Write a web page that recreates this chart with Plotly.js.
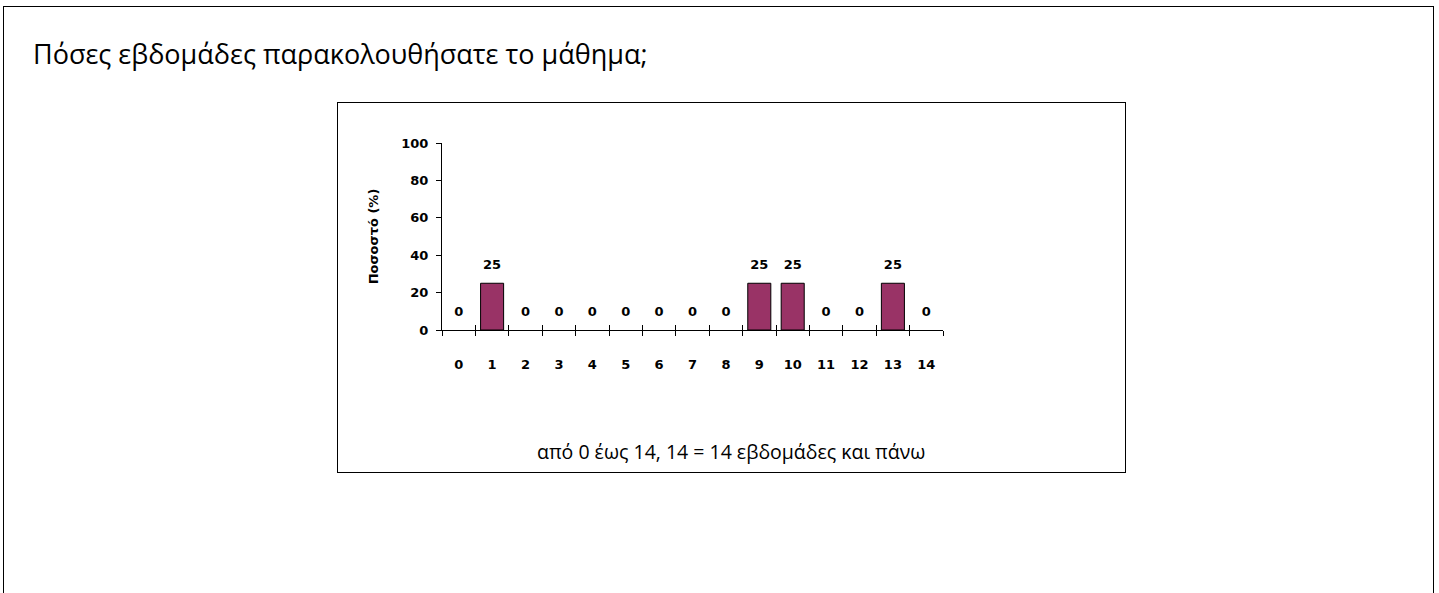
<!DOCTYPE html>
<html>
<head>
<meta charset="utf-8">
<script src="https://cdn.plot.ly/plotly-3.0.1.min.js"></script>
<style>
  html, body { margin: 0; padding: 0; background: #fff; }
  #wrap { position: relative; width: 1439px; height: 593px; overflow: hidden; }
  #outer { position: absolute; left: 3px; top: 6px; width: 1431px; height: 700px; border: 1px solid #000; box-sizing: border-box; }
  #inner { position: absolute; left: 337px; top: 102px; width: 789px; height: 371px; border: 1px solid #000; box-sizing: border-box; }
  #chart { position: absolute; left: 0; top: 0; width: 1439px; height: 593px; }
</style>
</head>
<body>
<div id="wrap">
  <div id="outer"></div>
  <div id="inner"></div>
  <div id="chart"></div>
</div>
<script>
const categories = ["0","1","2","3","4","5","6","7","8","9","10","11","12","13","14"];
const percentages = [0, 25, 0, 0, 0, 0, 0, 0, 0, 25, 25, 0, 0, 25, 0];
const yTicks = [0, 20, 40, 60, 80, 100];
const titleText = "Πόσες εβδομάδες παρακολουθήσατε το μάθημα;";
const yTitle = "Ποσοστό (%)";
const xTitle = "από 0 έως 14, 14 = 14 εβδομάδες και πάνω";

const W = 1439, H = 593;
const L = 442, R = 943, T = 143, B = 330;
const px2x = v => (v - L) / (R - L);
const px2y = v => (B - v) / (B - T);

const boldFont = {family: "DejaVu Sans, sans-serif", size: 13, color: "#000", weight: 700};

const traces = [
  {
    type: "bar",
    x: categories,
    y: percentages,
    marker: {color: "#993366", line: {color: "#000", width: percentages.map(v => v > 0 ? 1 : 0)}},
    hoverinfo: "x+y",
    showlegend: false
  },
  {
    type: "scatter",
    mode: "markers+text",
    x: categories,
    y: percentages,
    text: percentages.map(String),
    textposition: "top center",
    textfont: boldFont,
    marker: {size: 16, opacity: 0},
    cliponaxis: false,
    hoverinfo: "skip",
    showlegend: false
  },
  {
    type: "scatter",
    mode: "none",
    x: categories,
    y: percentages,
    xaxis: "x2",
    hoverinfo: "skip",
    showlegend: false
  }
];

const layout = {
  width: W, height: H,
  margin: {l: L, r: W - R, t: T, b: H - B, pad: 0},
  paper_bgcolor: "rgba(0,0,0,0)",
  plot_bgcolor: "rgba(0,0,0,0)",
  bargap: 0.31,
  title: {
    text: titleText,
    xref: "container", yref: "container",
    x: 33 / W, xanchor: "left",
    y: 1 - 55 / H, yanchor: "middle",
    font: {family: "Open Sans, sans-serif", size: 27, color: "#000"}
  },
  xaxis: {
    type: "category",
    categoryorder: "array", categoryarray: categories,
    range: [-0.5, 14.5],
    tickson: "boundaries",
    ticks: "outside", ticklen: 5, tickwidth: 1, tickcolor: "#000",
    showline: true, linecolor: "#000", linewidth: 1,
    showgrid: false, zeroline: false,
    tickfont: boldFont,
    ticklabelstandoff: 22,
    fixedrange: true
  },
  xaxis2: {
    type: "category",
    categoryorder: "array", categoryarray: categories,
    overlaying: "x", anchor: "y",
    range: [-0.5, 14.5],
    tickson: "boundaries",
    ticks: "inside", ticklen: 5, tickwidth: 1, tickcolor: "#000",
    showticklabels: false, showline: false, showgrid: false, zeroline: false,
    fixedrange: true
  },
  yaxis: {
    range: [0, 100],
    tickvals: yTicks,
    ticks: "outside", ticklen: 5, tickwidth: 1, tickcolor: "#000",
    showline: true, linecolor: "#000", linewidth: 1,
    showgrid: false, zeroline: false,
    tickfont: boldFont,
    ticklabelstandoff: 5,
    title: {text: yTitle, font: boldFont, standoff: 19},
    fixedrange: true
  },
  annotations: [
    {
      text: xTitle,
      xref: "paper", yref: "paper",
      x: px2x(731), y: px2y(451),
      xanchor: "center", yanchor: "middle",
      showarrow: false,
      font: {family: "Open Sans, sans-serif", size: 19.5, color: "#000"}
    }
  ]
};

Plotly.newPlot("chart", traces, layout, {displayModeBar: false, staticPlot: true});
</script>
</body>
</html>
